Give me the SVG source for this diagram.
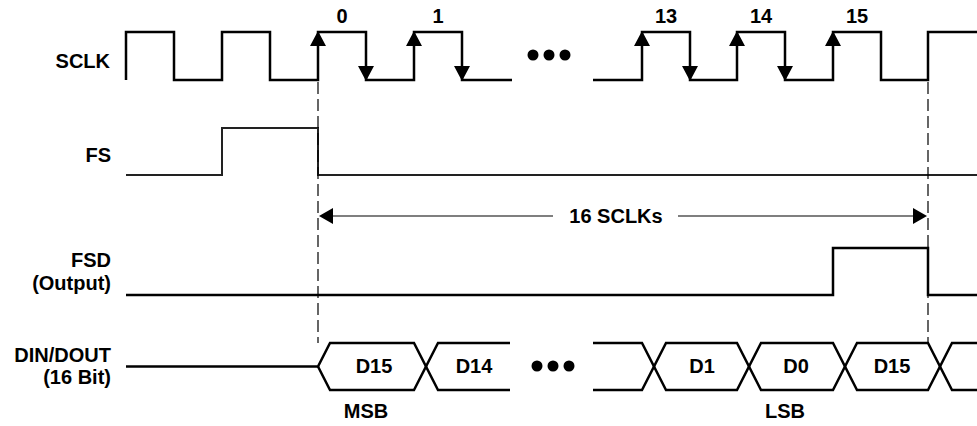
<svg xmlns="http://www.w3.org/2000/svg" width="977" height="426" viewBox="0 0 977 426">
  <defs>
    <style>
      text { font-family: "Liberation Sans", Arial, sans-serif; font-weight: bold; font-size: 20px; fill: #000; }
      .lbl { text-anchor: end; }
      .mid { text-anchor: middle; }
      .wave { fill: none; stroke: #000; stroke-width: 2.5; stroke-linejoin: miter; }
      .fs { fill: none; stroke: #222; stroke-width: 2; }
      .bus { fill: none; stroke: #000; stroke-width: 2.5; stroke-linejoin: miter; }
      .dash { fill: none; stroke: #000; stroke-width: 1.2; stroke-dasharray: 12 5; }
      .thin { fill: none; stroke: #000; stroke-width: 1.2; }
      .head { fill: #000; stroke: none; }
    </style>
    <path id="up" d="M0,0 L8,15 L-8,15 Z"/>
    <path id="down" d="M0,0 L8,-15 L-8,-15 Z"/>
  </defs>
  <rect width="977" height="426" fill="#fff"/>

  <g id="labels">
    <text class="lbl" x="110" y="68">SCLK</text>
    <text class="lbl" x="111" y="162">FS</text>
    <text class="lbl" x="111" y="267">FSD</text>
    <text class="lbl" x="111" y="290">(Output)</text>
    <text class="lbl" x="111" y="362">DIN/DOUT</text>
    <text class="lbl" x="111" y="384">(16 Bit)</text>
  </g>

  <g id="sclk">
    <path class="wave" d="M126,80 V32 H174 V80 H222 V32 H270 V80 H318 V32 H366 V80 H414 V32 H462 V80 H512"/>
    <path class="wave" d="M593,80 H642 V32 H690 V80 H737 V32 H785 V80 H833 V32 H881 V80 H928 V32 H977"/>
    <use href="#up" class="head" x="318" y="31"/>
    <use href="#up" class="head" x="414" y="31"/>
    <use href="#up" class="head" x="642" y="31"/>
    <use href="#up" class="head" x="737" y="31"/>
    <use href="#up" class="head" x="833" y="31"/>
    <use href="#down" class="head" x="366" y="81"/>
    <use href="#down" class="head" x="462" y="81"/>
    <use href="#down" class="head" x="690" y="81"/>
    <use href="#down" class="head" x="785" y="81"/>
    <circle cx="533" cy="55" r="5.5"/>
    <circle cx="549" cy="55" r="5.5"/>
    <circle cx="565" cy="55" r="5.5"/>
    <text class="mid" x="342" y="23">0</text>
    <text class="mid" x="438" y="23">1</text>
    <text class="mid" x="666" y="23">13</text>
    <text class="mid" x="761" y="23">14</text>
    <text class="mid" x="857" y="23">15</text>
  </g>

  <g id="fs">
    <path class="fs" d="M126,175 H222 V128 H318 V175 H977"/>
  </g>

  <g id="fsd">
    <path class="wave" d="M126,295 H833 V248 H928 V295 H977"/>
  </g>

  <g id="din-dout">
    <path class="bus" d="M126,366.5 H318 L330,343 H414 L438,390 H510"/>
    <path class="bus" d="M318,366.5 L330,390 H414 L438,343 H510"/>
    <path class="bus" d="M593,343 H642 L666,390 H737 L761,343 H833 L857,390 H928 L952,343 H977"/>
    <path class="bus" d="M593,390 H642 L666,343 H737 L761,390 H833 L857,343 H928 L952,390 H977"/>
    <circle cx="537" cy="366" r="5.5"/>
    <circle cx="553" cy="366" r="5.5"/>
    <circle cx="569" cy="366" r="5.5"/>
    <text class="mid" x="374" y="373">D15</text>
    <text class="mid" x="474" y="373">D14</text>
    <text class="mid" x="702" y="373">D1</text>
    <text class="mid" x="796" y="373">D0</text>
    <text class="mid" x="892" y="373">D15</text>
    <text class="mid" x="366" y="418">MSB</text>
    <text class="mid" x="785" y="418">LSB</text>
  </g>

  <g id="connectors">
    <line class="dash" x1="318" y1="82" x2="318" y2="343"/>
    <line class="dash" x1="928" y1="82" x2="928" y2="343"/>
    <line class="thin" x1="330" y1="216" x2="553" y2="216"/>
    <line class="thin" x1="678" y1="216" x2="916" y2="216"/>
    <path class="head" d="M319,216 L333,208 L333,224 Z"/>
    <path class="head" d="M927,216 L913,208 L913,224 Z"/>
    <text class="mid" x="616" y="223">16 SCLKs</text>
  </g>
</svg>
